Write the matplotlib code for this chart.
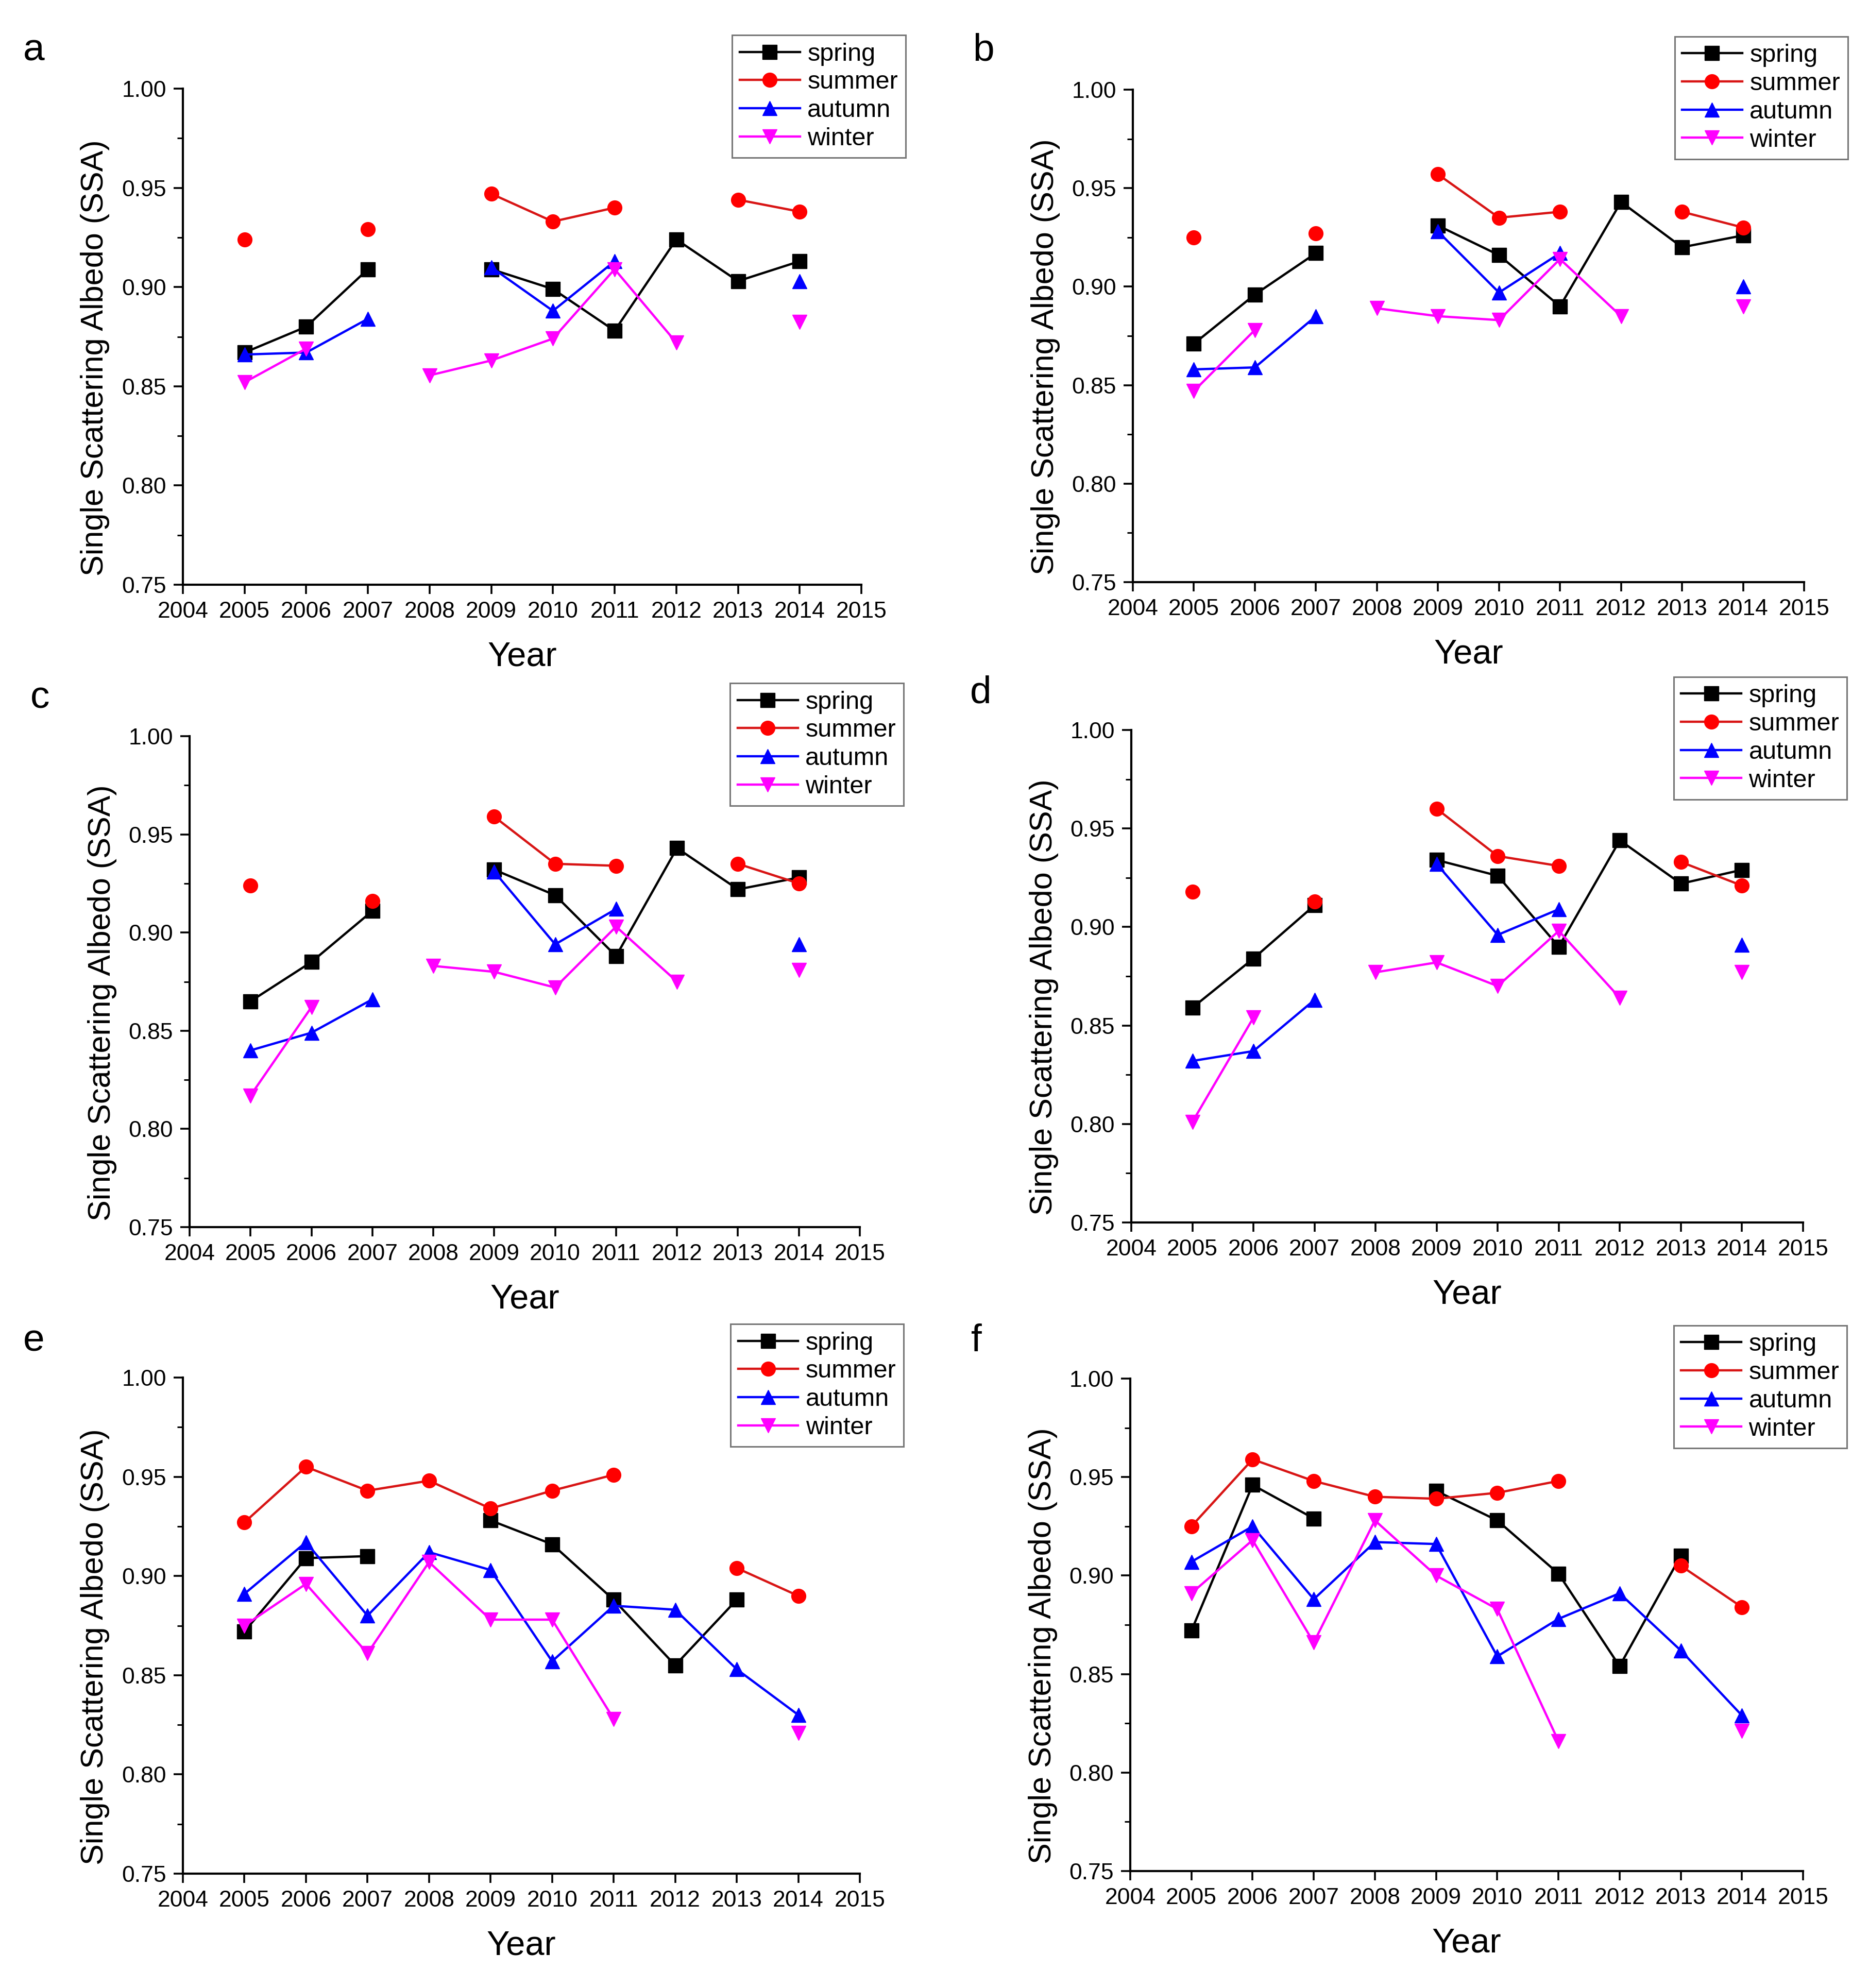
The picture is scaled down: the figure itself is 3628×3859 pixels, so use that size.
import numpy as np
import matplotlib
matplotlib.use("Agg")
import matplotlib.pyplot as plt
from matplotlib.ticker import MultipleLocator

nan = np.nan
years = [2005, 2006, 2007, 2008, 2009, 2010, 2011, 2012, 2013, 2014]
seasons = ["spring", "summer", "autumn", "winter"]
panel_letters = ["a", "b", "c", "d", "e", "f"]
xtick_labels = [str(y) for y in range(2004, 2016)]
ytick_values = [0.75, 0.80, 0.85, 0.90, 0.95, 1.00]

# panel a
spring_a = [0.867, 0.880, 0.909, nan, 0.909, 0.899, 0.878, 0.924, 0.903, 0.913]
summer_a = [0.924, nan, 0.929, nan, 0.947, 0.933, 0.940, nan, 0.944, 0.938]
autumn_a = [0.866, 0.867, 0.884, nan, 0.910, 0.888, 0.913, nan, nan, 0.903]
winter_a = [0.852, 0.869, nan, 0.8555, 0.863, 0.874, 0.909, 0.872, nan, 0.8825]
# panel b
spring_b = [0.871, 0.896, 0.917, nan, 0.931, 0.916, 0.890, 0.943, 0.920, 0.926]
summer_b = [0.925, nan, 0.927, nan, 0.957, 0.935, 0.938, nan, 0.938, 0.930]
autumn_b = [0.858, 0.859, 0.885, nan, 0.928, 0.897, 0.917, nan, nan, 0.900]
winter_b = [0.847, 0.878, nan, 0.889, 0.885, 0.883, 0.914, 0.885, nan, 0.890]
# panel c
spring_c = [0.865, 0.885, 0.911, nan, 0.932, 0.919, 0.888, 0.943, 0.922, 0.928]
summer_c = [0.924, nan, 0.916, nan, 0.959, 0.935, 0.934, nan, 0.935, 0.925]
autumn_c = [0.840, 0.849, 0.866, nan, 0.931, 0.894, 0.912, nan, nan, 0.894]
winter_c = [0.817, 0.862, nan, 0.883, 0.880, 0.872, 0.903, 0.875, nan, 0.881]
# panel d
spring_d = [0.859, 0.884, 0.911, nan, 0.934, 0.926, 0.890, 0.944, 0.922, 0.929]
summer_d = [0.918, nan, 0.913, nan, 0.960, 0.936, 0.931, nan, 0.933, 0.921]
autumn_d = [0.832, 0.837, 0.863, nan, 0.932, 0.896, 0.909, nan, nan, 0.891]
winter_d = [0.801, 0.854, nan, 0.877, 0.882, 0.870, 0.898, 0.864, nan, 0.877]
# panel e
spring_e = [0.872, 0.909, 0.910, nan, 0.928, 0.916, 0.888, 0.855, 0.888, nan]
summer_e = [0.927, 0.955, 0.943, 0.948, 0.934, 0.943, 0.951, nan, 0.904, 0.890]
autumn_e = [0.891, 0.917, 0.880, 0.912, 0.903, 0.857, 0.885, 0.883, 0.853, 0.830]
winter_e = [0.875, 0.896, 0.861, 0.907, 0.878, 0.878, 0.828, nan, nan, 0.821]
# panel f
spring_f = [0.872, 0.946, 0.929, nan, 0.943, 0.928, 0.901, 0.854, 0.910, nan]
summer_f = [0.925, 0.959, 0.948, 0.940, 0.939, 0.942, 0.948, nan, 0.905, 0.884]
autumn_f = [0.907, 0.925, 0.888, 0.917, 0.916, 0.859, 0.878, 0.891, 0.862, 0.829]
winter_f = [0.891, 0.918, 0.866, 0.928, 0.900, 0.883, 0.816, nan, nan, 0.821]

panels = [
    (spring_a, summer_a, autumn_a, winter_a),
    (spring_b, summer_b, autumn_b, winter_b),
    (spring_c, summer_c, autumn_c, winter_c),
    (spring_d, summer_d, autumn_d, winter_d),
    (spring_e, summer_e, autumn_e, winter_e),
    (spring_f, summer_f, autumn_f, winter_f),
]

styles = [
    dict(color="black", marker="s", mfc="black", mec="black"),
    dict(color="#D81515", marker="o", mfc="#FF0000", mec="#FF0000"),
    dict(color="#0000FF", marker="^", mfc="#0000FF", mec="#0000FF"),
    dict(color="#FF00FF", marker="v", mfc="#FF00FF", mec="#FF00FF"),
]

W, H = 3628, 3859
fig = plt.figure(figsize=(W / 100, H / 100), dpi=100, facecolor="white")

# axes boxes in pixel coords: left, right, top, bottom
boxes = [
    (355, 1672, 172, 1135),
    (2199, 3502, 174, 1130),
    (368, 1669, 1429, 2382),
    (2196, 3500, 1417, 2373),
    (355, 1669, 2674, 3637),
    (2194, 3500, 2676, 3632),
]
letter_pos = [(66, 98), (1909, 98), (78, 1355), (1904, 1345), (66, 2603), (1895, 2603)]

tickfont = ["Liberation Sans", "DejaVu Sans"]
labelfont = ["Liberation Sans", "DejaVu Sans"]

for i, (data, box) in enumerate(zip(panels, boxes)):
    l, r, t, b = box
    ax = fig.add_axes([l / W, 1 - b / H, (r - l) / W, (b - t) / H])
    for name, vals, st in zip(seasons, data, styles):
        ax.plot(years, vals, label=name, lw=3.2, ms=20, markeredgewidth=1.0,
                color=st["color"], marker=st["marker"], mfc=st["mfc"], mec=st["mec"])
    ax.set_xlim(2004, 2015)
    ax.set_ylim(0.75, 1.00)
    ax.set_xticks(range(2004, 2016))
    ax.set_xticklabels(xtick_labels)
    ax.set_yticks(ytick_values)
    ax.set_yticklabels([f"{v:.2f}" for v in ytick_values])
    ax.yaxis.set_minor_locator(MultipleLocator(0.025))
    for s in ["top", "right"]:
        ax.spines[s].set_visible(False)
    for s in ["left", "bottom"]:
        ax.spines[s].set_linewidth(3.0)
    ax.tick_params(axis="both", which="major", direction="out", length=13, width=2.6, pad=10)
    ax.tick_params(axis="y", which="minor", direction="out", length=8, width=2.2)
    for lab in ax.get_xticklabels() + ax.get_yticklabels():
        lab.set_fontfamily(tickfont)
        lab.set_fontsize(32)
    ax.set_xlabel("Year", fontsize=48, family=labelfont, labelpad=26)
    ax.set_ylabel("Single Scattering Albedo (SSA)", fontsize=44, family=labelfont)
    ax.yaxis.set_label_coords(-0.108, 0.457)
    leg = ax.legend(loc="upper right", bbox_to_anchor=(1.065, 1.108), borderaxespad=0,
                    prop={"family": tickfont, "size": 35},
                    handlelength=2.4, labelspacing=0.2, handletextpad=0.3,
                    borderpad=0.3, frameon=True, fancybox=False)
    leg.get_frame().set_edgecolor("#555555")
    leg.get_frame().set_linewidth(2.2)
    lx, ly = letter_pos[i]
    fig.text(lx / W, 1 - ly / H, panel_letters[i], fontsize=54, family=labelfont,
             ha="center", va="center")

fig.savefig("out.png", dpi=100, facecolor="white")
